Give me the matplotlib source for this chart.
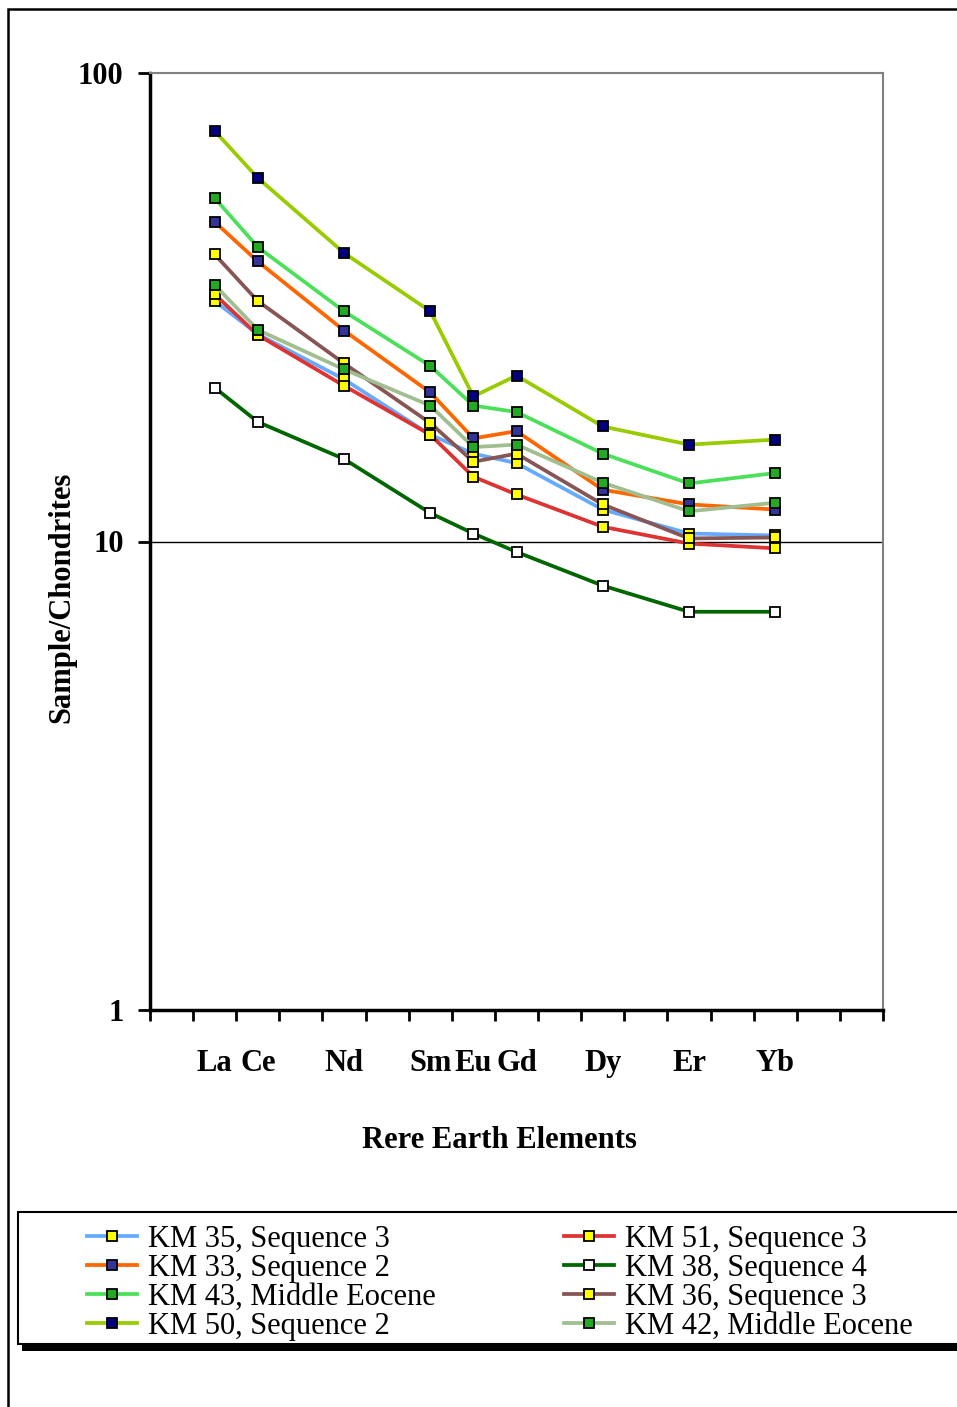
import matplotlib
matplotlib.use('Agg')
import matplotlib.pyplot as plt
from matplotlib.patches import Rectangle
from matplotlib.ticker import FixedLocator, NullLocator

plt.rcParams['font.family'] = ['Liberation Serif', 'DejaVu Serif']

# REE slots on the x axis (blank slots = elements not analysed)
categories = ['', 'La', 'Ce', '', 'Nd', '', 'Sm', 'Eu', 'Gd', '', 'Dy', '', 'Er', '', 'Yb', '', '']
N = None

# chondrite normalised values
km35 = [N, 32.6, 27.7, N, 22.2, N, 16.9, 15.4, 14.7, N, 11.7, N, 10.4, N, 10.3, N, N]
km33 = [N, 48.1, 39.6, N, 28.2, N, 20.8, 16.6, 17.2, N, 12.9, N, 12.0, N, 11.7, N, N]
km43 = [N, 54.1, 42.5, N, 31.0, N, 23.7, 19.5, 18.9, N, 15.4, N, 13.3, N, 14.0, N, N]
km50 = [N, 75.2, 59.7, N, 41.3, N, 31.0, 20.4, 22.6, N, 17.6, N, 16.1, N, 16.5, N, N]
km51 = [N, 33.7, 27.6, N, 21.5, N, 16.9, 13.75, 12.6, N, 10.75, N, 9.9, N, 9.67, N, N]
km38 = [N, 21.3, 18.0, N, 15.0, N, 11.5, 10.4, 9.5, N, 8.05, N, 7.08, N, 7.08, N, N]
km36 = [N, 41.0, 32.6, N, 24.0, N, 17.9, 14.8, 15.4, N, 12.0, N, 10.15, N, 10.2, N, N]
km42 = [N, 35.3, 28.3, N, 23.3, N, 19.5, 15.9, 16.1, N, 13.35, N, 11.6, N, 12.1, N, N]

names = ['KM 35, Sequence 3', 'KM 33, Sequence 2', 'KM 43, Middle Eocene', 'KM 50, Sequence 2',
         'KM 51, Sequence 3', 'KM 38, Sequence 4', 'KM 36, Sequence 3', 'KM 42, Middle Eocene']
series = [km35, km33, km43, km50, km51, km38, km36, km42]
line_colors = ['#66AAFF', '#FF6600', '#4CE05A', '#99CC00', '#DD3333', '#006600', '#885555', '#A0BE90']
marker_colors = ['#FFFF00', '#333399', '#22AA22', '#000080', '#FFFF00', '#FFFFFF', '#FFFF00', '#22AA22']

fig = plt.figure(figsize=(9.57, 14.07), dpi=100)
W, H = 957, 1407

ax = fig.add_axes([150 / W, 1 - 1010 / H, 733 / W, 937 / H])

for vals, name, lc, mc in zip(series, names, line_colors, marker_colors):
    x = [i + 0.5 for i, v in enumerate(vals) if v is not None]
    y = [v for v in vals if v is not None]
    ax.plot(x, y, color=lc, lw=2.7, marker='s', ms=7.8, mfc=mc, mec='black', mew=1.3,
            label=name, zorder=3)

ax.set_yscale('log')
ax.set_ylim(1, 100)
ax.set_xlim(0, len(categories))
ax.axhline(10, color='black', lw=1, zorder=1)

ax.yaxis.set_major_locator(FixedLocator([1, 10, 100]))
ax.yaxis.set_minor_locator(NullLocator())
ax.set_yticklabels(['1', '10', '100'], fontsize=22, fontweight='bold')
ax.tick_params(axis='y', which='major', direction='out', length=9, width=2, pad=10)

ax.xaxis.set_major_locator(FixedLocator(range(len(categories) + 1)))
ax.xaxis.set_minor_locator(FixedLocator([i + 0.5 for i in range(len(categories))]))
ax.xaxis.set_major_formatter(plt.NullFormatter())
ax.set_xticklabels(categories, minor=True, fontsize=22, fontweight='bold')
ax.tick_params(axis='x', which='major', direction='out', length=8, width=2)
ax.tick_params(axis='x', which='minor', length=0, pad=28)

for s in ['left', 'bottom']:
    ax.spines[s].set_linewidth(2.5)
    ax.spines[s].set_color('black')
for s in ['top', 'right']:
    ax.spines[s].set_linewidth(1.5)
    ax.spines[s].set_color('#808080')

fig.text(62 / W, 1 - 597 / H, 'Sample/Chondrites', rotation=90, ha='center', va='center',
         fontsize=22, fontweight='bold')
fig.text(499.5 / W, 1 - 1141 / H, 'Rere Earth Elements', ha='center', va='center',
         fontsize=22, fontweight='bold')

# outer chart border (right / bottom edges fall outside the image)
fig.add_artist(Rectangle((8 / W, -0.1), 1.2, 1.1 - 9 / H, transform=fig.transFigure,
                         fill=False, ec='black', lw=1.8))

# legend box with shadow
fig.add_artist(Rectangle((22 / W, 1 - 1351 / H), 1.2, 10 / H, transform=fig.transFigure,
                         fc='black', ec='none'))
fig.add_artist(Rectangle((18 / W, 1 - 1344 / H), 1.2, 132 / H, transform=fig.transFigure,
                         fc='white', ec='black', lw=1.5))

handles, labels = ax.get_legend_handles_labels()
fig.legend(handles, labels, ncol=2, loc='upper left', bbox_to_anchor=(87 / W, 1 - 1225 / H),
           frameon=False, fontsize=22, handlelength=1.63, handletextpad=0.36,
           columnspacing=4.2, labelspacing=0.0, borderpad=0, borderaxespad=0)

fig.savefig('out.png', dpi=100)
